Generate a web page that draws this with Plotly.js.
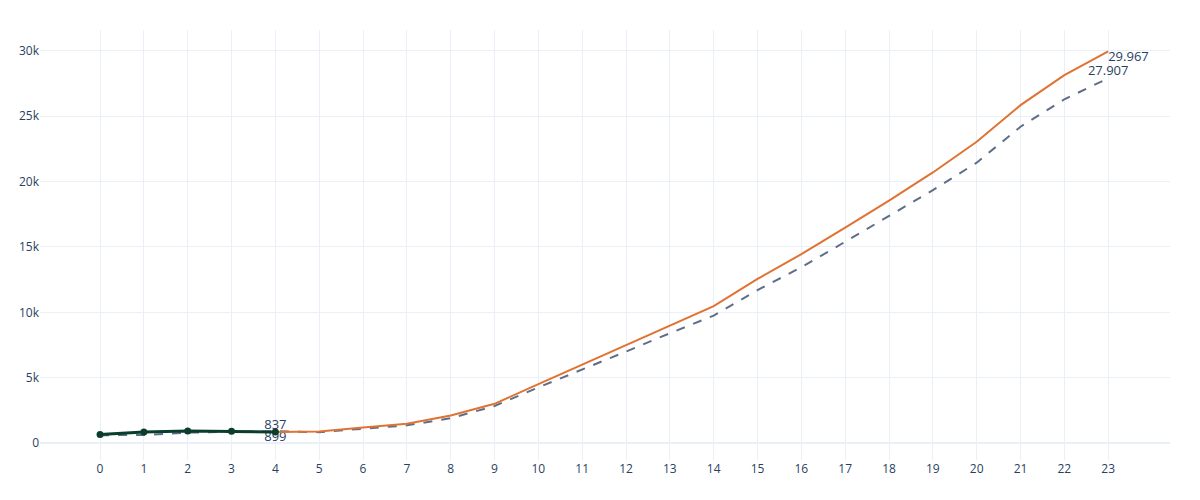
<!DOCTYPE html>
<html>
<head>
<meta charset="utf-8">
<script src="https://cdn.plot.ly/plotly-3.0.1.min.js"></script>
<style>html,body{margin:0;padding:0;background:#fff}#chart{width:1200px;height:500px}</style>
</head>
<body>
<div id="chart"></div>
<script>
var actualX = [0, 1, 2, 3, 4];
var actualY = [650, 850, 910, 900, 837];

var forecastX = [4, 5, 6, 7, 8, 9, 10, 11, 12, 13, 14, 15, 16, 17, 18, 19, 20, 21, 22, 23];
var forecastY = [837, 880, 1180, 1480, 2100, 3000, 4500, 6000, 7500, 9000, 10480, 12550, 14450, 16480, 18550, 20700, 23050, 25850, 28150, 29967];
var forecastText = ["837", "", "", "", "", "", "", "", "", "", "", "", "", "", "", "", "", "", "", "29.967"];

var modelX = [0, 1, 2, 3, 4, 5, 6, 7, 8, 9, 10, 11, 12, 13, 14, 15, 16, 17, 18, 19, 20, 21, 22, 23];
var modelY = [600, 610, 800, 860, 899, 830, 1100, 1350, 1900, 2830, 4250, 5600, 7000, 8400, 9750, 11700, 13450, 15400, 17350, 19350, 21450, 24200, 26300, 27907];
var modelText = ["", "", "", "", "899", "", "", "", "", "", "", "", "", "", "", "", "", "", "", "", "", "", "", "27.907"];

var tickVals = modelX;

var traces = [
  {
    x: modelX, y: modelY, text: modelText, mode: "lines+text", type: "scatter",
    textposition: modelText.map(function (t, i) { return i === 4 ? "bottom center" : "top center"; }),
    textfont: {size: 13, color: "#2a3f5f"},
    line: {color: "#5f6e88", width: 2, dash: "dash"}, showlegend: false, hoverinfo: "x+y"
  },
  {
    x: forecastX, y: forecastY, text: forecastText, mode: "lines+text", type: "scatter",
    textposition: forecastText.map(function (t, i) { return i === 0 ? "top center" : "bottom right"; }),
    textfont: {size: 13, color: "#2a3f5f"},
    line: {color: "#e07232", width: 2}, showlegend: false, hoverinfo: "x+y"
  },
  {
    x: actualX, y: actualY, mode: "lines+markers", type: "scatter",
    line: {color: "#0b3d2c", width: 3}, marker: {color: "#0b3d2c", size: 7},
    showlegend: false, hoverinfo: "x+y"
  }
];

var layout = {
  width: 1200, height: 500,
  margin: {l: 40, r: 30, t: 30, b: 40},
  paper_bgcolor: "#ffffff", plot_bgcolor: "#ffffff",
  font: {family: "\"Open Sans\", verdana, arial, sans-serif", size: 12, color: "#2a3f5f"},
  showlegend: false,
  xaxis: {
    range: [-1.37, 24.41], tickvals: tickVals, ticktext: tickVals.map(String),
    gridcolor: "#EBF0F8", zeroline: false,
    showline: false, ticks: ""
  },
  yaxis: {
    range: [-1300, 31600], tickvals: [0, 5000, 10000, 15000, 20000, 25000, 30000],
    ticktext: ["0", "5k", "10k", "15k", "20k", "25k", "30k"],
    gridcolor: "#EBF0F8", zeroline: true, zerolinecolor: "#EBF0F8", zerolinewidth: 2,
    showline: false, ticks: ""
  }
};

Plotly.newPlot("chart", traces, layout, {displayModeBar: false, staticPlot: true});
</script>
</body>
</html>
